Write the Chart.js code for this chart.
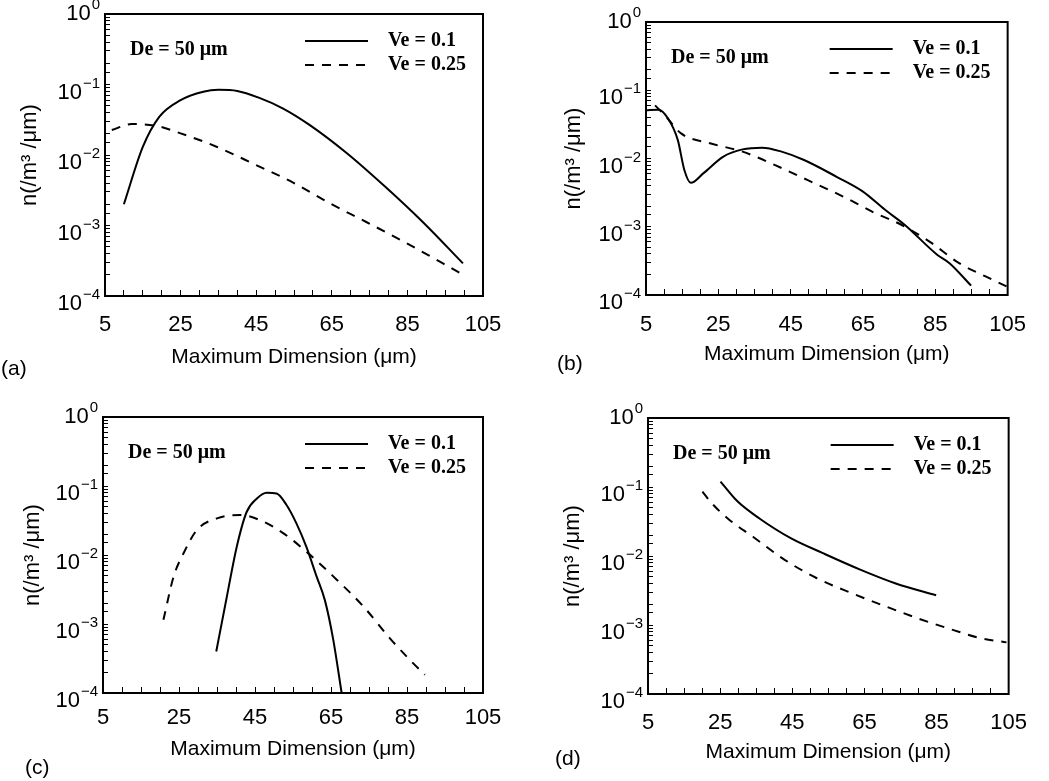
<!DOCTYPE html>
<html>
<head>
<meta charset="utf-8">
<script src="https://cdn.jsdelivr.net/npm/chart.js@4.4.0/dist/chart.umd.min.js"></script>
<style>
body { margin: 0; background: #fff; }
#page { position: relative; width: 1049px; height: 781px; overflow: hidden; background: #fff; }
#page canvas { position: absolute; }
.tag { position: absolute; font-family: "Liberation Sans", Arial, sans-serif; font-size: 21px; color: #000; line-height: 1; }
</style>
</head>
<body>
<div id="page">
  <canvas id="chartA" width="525" height="390" style="left:0;top:0"></canvas>
  <canvas id="chartB" width="524" height="390" style="left:525px;top:0"></canvas>
  <canvas id="chartC" width="525" height="391" style="left:0;top:390px"></canvas>
  <canvas id="chartD" width="524" height="391" style="left:525px;top:390px"></canvas>
  <div class="tag" style="left:1px;top:357px">(a)</div>
  <div class="tag" style="left:557px;top:352px">(b)</div>
  <div class="tag" style="left:25px;top:756px">(c)</div>
  <div class="tag" style="left:555px;top:747px">(d)</div>
</div>
<script>
// labels and tick labels
var seriesLabels = ['Ve = 0.1', 'Ve = 0.25'];
var noteText = 'De = 50 \u03bcm';
var xTitle = 'Maximum Dimension (\u03bcm)';
var yTitle = 'n(/m\u00b3 /\u03bcm)';
var xTickLabels = [5, 25, 45, 65, 85, 105];
var yTickExps = [0, -1, -2, -3, -4];

// panel (a)
var aSolidX = [10, 15, 19.4, 25, 31, 35, 40, 46, 52, 59, 69, 79, 89, 99.7];
var aSolidY = [0.002, 0.013, 0.035, 0.06, 0.079, 0.084, 0.081, 0.064, 0.046, 0.027, 0.0106, 0.0036, 0.00113, 0.00029];
var aDashX = [6.8, 12, 18.7, 25, 34.5, 45, 55, 64.5, 74, 84, 94.4, 99.7];
var aDashY = [0.0226, 0.0275, 0.0258, 0.0203, 0.0131, 0.0072, 0.004, 0.00206, 0.00113, 0.00059, 0.00029, 0.0002];

// panel (b)
var bSolidX = [5, 8.4, 11.1, 13.8, 15.6, 17.4, 20.9, 26.3, 31.7, 37.1, 42.5, 48.7, 57.7, 64.9, 71.1, 76.5, 85.5, 89, 94.9];
var bSolidY = [0.051, 0.052, 0.0386, 0.0186, 0.0068, 0.0044, 0.0061, 0.0106, 0.0136, 0.0144, 0.0126, 0.0095, 0.0054, 0.0033, 0.00177, 0.00107, 0.00039, 0.00029, 0.000137];
var bDashX = [7.5, 10.2, 14.7, 22.7, 31.7, 40.7, 49.6, 59.5, 68.4, 75.6, 83.7, 91.7, 98.9, 104.7];
var bDashY = [0.06, 0.043, 0.0233, 0.0167, 0.0126, 0.008, 0.00485, 0.00277, 0.00158, 0.00107, 0.00059, 0.00029, 0.000187, 0.000134];

// panel (c)
var cSolidX = [34.8, 37.6, 40.2, 42.8, 45.5, 48.1, 50.7, 53.3, 55.9, 58.5, 61.2, 63.4, 65.6, 67.8];
var cSolidY = [0.0004, 0.0025, 0.0132, 0.042, 0.066, 0.08, 0.078, 0.053, 0.0287, 0.0132, 0.0049, 0.0022, 0.00059, 0.0001];
var cDashX = [20.9, 23.6, 26.2, 29.7, 35, 41.1, 46.3, 52.5, 58.5, 65.6, 73.5, 80.5, 85.8, 89.7];
var cDashY = [0.00115, 0.0049, 0.0106, 0.023, 0.034, 0.038, 0.032, 0.0206, 0.0112, 0.0049, 0.0018, 0.00062, 0.0003, 0.000184];

// panel (d)
var dSolidX = [25.1, 29.8, 35.9, 44.7, 53.5, 64, 73.7, 84.9];
var dSolidY = [0.12, 0.062, 0.035, 0.018, 0.011, 0.0063, 0.004, 0.0027];
var dDashX = [20.1, 22.7, 27.1, 34.1, 42.9, 51.7, 61.4, 71, 79.8, 89.5, 97.4, 104.4];
var dDashY = [0.086, 0.058, 0.035, 0.019, 0.0088, 0.0048, 0.0029, 0.00185, 0.00125, 0.00085, 0.00064, 0.00056];

var sansFont = '"Liberation Sans", Arial, Helvetica, sans-serif';
var serifFont = '"Liberation Serif", "Times New Roman", serif';

function toPoints(xs, ys) {
    let arr = [];
    for (let i = 0; i < xs.length; i++) {
        arr.push({ x: xs[i], y: ys[i] });
    }
    return arr;
}

// box around plot, "De" note, in-plot legend, and 10^n labels with real superscripts
var framePlugin = {
    id: 'frame',
    afterDatasetsDraw: function (chart) {
        let ctx = chart.ctx;
        let a = chart.chartArea;
        ctx.save();
        ctx.strokeStyle = '#000';
        ctx.lineWidth = 2;
        ctx.strokeRect(a.left, a.top, a.right - a.left, a.bottom - a.top);
        ctx.fillStyle = '#000';
        ctx.font = 'bold 20px ' + serifFont;
        ctx.textBaseline = 'middle';
        ctx.textAlign = 'left';
        ctx.fillText(noteText, a.left + 25, a.top + 36);
        chart.data.datasets.forEach(function (ds, i) {
            let y = a.top + 27 + i * 24;
            ctx.beginPath();
            ctx.setLineDash(ds.borderDash || []);
            ctx.lineWidth = 2;
            ctx.moveTo(a.right - 178, y);
            ctx.lineTo(a.right - 115, y);
            ctx.stroke();
            ctx.setLineDash([]);
            ctx.fillText(ds.label, a.right - 95, y);
        });

        let ys = chart.scales.y;
        yTickExps.forEach(function (e) {
            let py = ys.getPixelForValue(Math.pow(10, e));
            let base = e === 0 ? py : py + 8;
            let sup = String(e).replace('-', '\u2212');
            ctx.font = '15px ' + sansFont;
            let w = ctx.measureText(sup).width;
            let right = a.left - 5;
            ctx.textAlign = 'left';
            ctx.textBaseline = 'middle';
            ctx.fillText(sup, right - w, base - 9);
            ctx.font = '22px ' + sansFont;
            ctx.textAlign = 'right';
            ctx.fillText('10', right - w - 1, base);
        });
        ctx.restore();
    }
};

function drawPanel(id, sx, sy, dx, dy, lay) {
    var config = {
        type: 'line',
        data: {
            datasets: [{
                label: seriesLabels[0],
                data: toPoints(sx, sy),
                borderColor: '#000',
                borderWidth: 2,
                pointRadius: 0,
                fill: false,
                cubicInterpolationMode: 'monotone'
            }, {
                label: seriesLabels[1],
                data: toPoints(dx, dy),
                borderColor: '#000',
                borderWidth: 2,
                borderDash: [9, 8],
                pointRadius: 0,
                fill: false,
                cubicInterpolationMode: 'monotone'
            }]
        },
        options: {
            responsive: false,
            animation: false,
            layout: { padding: { left: 0, top: lay.top, right: lay.right, bottom: 0 } },
            plugins: { legend: { display: false }, tooltip: { enabled: false } },
            scales: {
                x: {
                    type: 'linear',
                    position: 'bottom',
                    min: 5,
                    max: 105,
                    grid: { drawOnChartArea: false, drawTicks: true, tickLength: -6, tickColor: '#000', tickWidth: 1 },
                    border: { display: false },
                    ticks: {
                        stepSize: 5,
                        autoSkip: false,
                        maxRotation: 0,
                        padding: lay.xTickPad,
                        color: '#000',
                        font: { family: sansFont, size: 22 },
                        callback: function (v) { return xTickLabels.indexOf(v) >= 0 ? String(v) : ''; }
                    },
                    title: {
                        display: true,
                        text: xTitle,
                        color: '#000',
                        font: { family: sansFont, size: 21 },
                        padding: { top: 0, bottom: lay.xTitlePad }
                    },
                    afterFit: function (scale) { scale.height = lay.xh; }
                },
                y: {
                    type: 'logarithmic',
                    position: 'left',
                    min: 0.0001,
                    max: 1,
                    grid: { drawOnChartArea: false, drawTicks: true, tickLength: -5, tickColor: '#000', tickWidth: 1 },
                    border: { display: false },
                    ticks: {
                        autoSkip: false,
                        color: '#000',
                        callback: function () { return ''; }
                    },
                    title: {
                        display: true,
                        text: yTitle,
                        color: '#000',
                        font: { family: sansFont, size: 22 },
                        padding: { top: lay.yTitlePad, bottom: 0 }
                    },
                    afterFit: function (scale) { scale.width = lay.yw; }
                }
            }
        },
        plugins: [framePlugin]
    };
    var ctx = document.getElementById(id).getContext('2d');
    return new Chart(ctx, config);
}

drawPanel('chartA', aSolidX, aSolidY, aDashX, aDashY,
    { top: 14, right: 42, yw: 105, xh: 94, xTickPad: 22, xTitlePad: 20, yTitlePad: 17 });
drawPanel('chartB', bSolidX, bSolidY, bDashX, bDashY,
    { top: 22, right: 31, yw: 121, xh: 95, xTickPad: 23, xTitlePad: 23, yTitlePad: 36 });
drawPanel('chartC', cSolidX, cSolidY, cDashX, cDashY,
    { top: 27, right: 42, yw: 103, xh: 88, xTickPad: 18, xTitlePad: 19, yTitlePad: 20 });
drawPanel('chartD', dSolidX, dSolidY, dDashX, dDashY,
    { top: 28, right: 22, yw: 123, xh: 87, xTickPad: 22, xTitlePad: 16, yTitlePad: 35 });
</script>
</body>
</html>
